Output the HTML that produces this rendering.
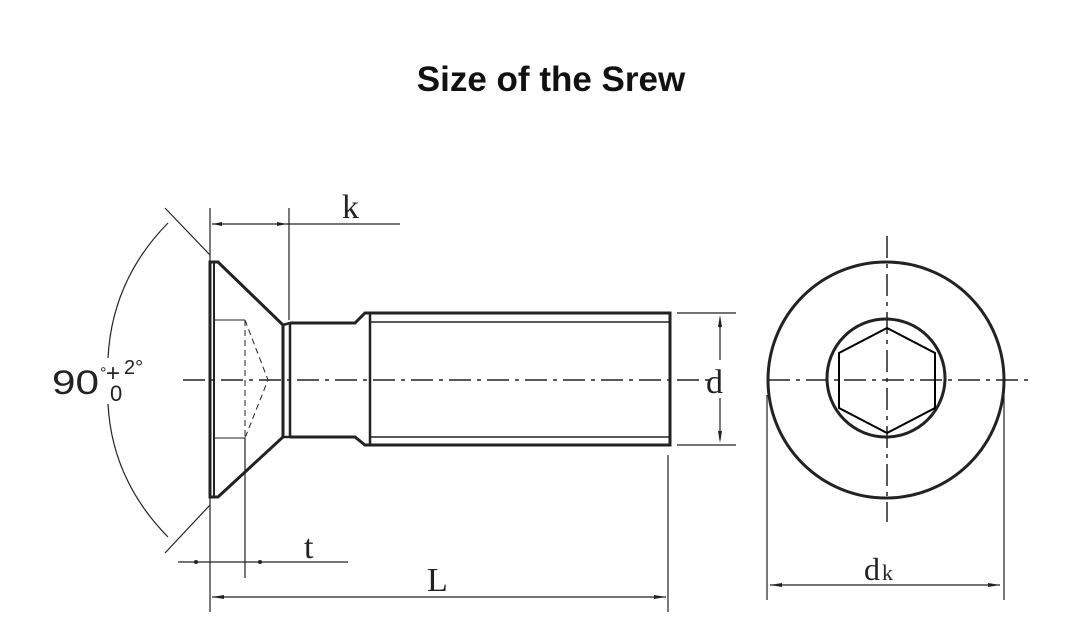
<!DOCTYPE html>
<html><head><meta charset="utf-8"><style>
body{margin:0;width:1080px;height:640px;background:#fff;overflow:hidden}
svg{position:absolute;left:0;top:0}
</style></head><body>
<svg width="1080" height="640" viewBox="0 0 1080 640" xmlns="http://www.w3.org/2000/svg">
<text x="551" y="91" text-anchor="middle" font-family="Liberation Sans, sans-serif" font-weight="bold" font-size="35" fill="#111">Size of the Srew</text>
<g stroke="#222" fill="none" stroke-width="1.5">
<line x1="183" y1="380" x2="710" y2="380" stroke-dasharray="22,6,4,6"/>
<line x1="768" y1="380" x2="1030" y2="380" stroke-dasharray="22,6,4,6"/>
<line x1="887" y1="236" x2="887" y2="522" stroke-dasharray="22,6,4,6"/>
<path d="M210 262 L218 262 L283 325 L283 437 L218 497 L210 497 Z" stroke-width="3"/>
<line x1="214" y1="262" x2="214" y2="497" stroke-width="2"/>
<line x1="283" y1="325" x2="290" y2="323" stroke-width="2.5"/>
<line x1="283" y1="437" x2="290" y2="437" stroke-width="2.5"/>
<line x1="290" y1="323" x2="290" y2="437" stroke-width="2.5"/>
<path d="M214 320 L245 320 M214 438 L245 438" stroke-width="1"/>
<path d="M245 320 L245 438 M245 320 L268 380 L245 438" stroke-dasharray="6,4" stroke-width="1"/>
<path d="M290 323 L355 323 L365 313 L670 313 L670 445 L365 445 L355 437 L290 437" stroke-width="3"/>
<line x1="370" y1="313" x2="370" y2="445" stroke-width="2.5"/>
<line x1="370" y1="322" x2="670" y2="322" stroke-width="1.5"/>
<line x1="370" y1="437" x2="670" y2="437" stroke-width="1.5"/>
<line x1="210" y1="208" x2="210" y2="612" stroke-width="1.2"/>
<line x1="289" y1="208" x2="289" y2="320" stroke-width="1.2"/>
<line x1="245" y1="438" x2="245" y2="578" stroke-width="1.2"/>
<line x1="668" y1="455" x2="668" y2="612" stroke-width="1.2"/>
<line x1="677" y1="313" x2="736" y2="313" stroke-width="1.2"/>
<line x1="677" y1="445" x2="736" y2="445" stroke-width="1.2"/>
<line x1="767" y1="395" x2="767" y2="600" stroke-width="1.2"/>
<line x1="1004" y1="395" x2="1004" y2="600" stroke-width="1.2"/>
<line x1="212" y1="224" x2="400" y2="224" stroke-width="1.2"/>
<line x1="178" y1="562" x2="348" y2="562" stroke-width="1.2"/>
<line x1="212" y1="597" x2="666" y2="597" stroke-width="1.2"/>
<line x1="720" y1="318" x2="720" y2="360" stroke-width="1.2"/>
<line x1="720" y1="398" x2="720" y2="440" stroke-width="1.2"/>
<line x1="770" y1="585" x2="1000" y2="585" stroke-width="1.2"/>
<line x1="165" y1="208" x2="210" y2="255" stroke-width="1.2"/>
<line x1="165" y1="553" x2="210" y2="505" stroke-width="1.2"/>
<path d="M168 223 Q112 280 108 358" stroke-width="1.2"/>
<path d="M108 404 Q112 480 168 537" stroke-width="1.2"/>
<circle cx="886" cy="380" r="118" stroke-width="3"/>
<circle cx="886" cy="378" r="59" stroke-width="3"/>
<polygon points="887,328 935,353 935,408 887,433 839,408 839,353" stroke="#000" stroke-width="2"/>
</g>
<g fill="#222">
<polygon points="212,224 222,222 222,226"/><polygon points="287,224 277,222 277,226"/>
<polygon points="212,597 224,595 224,599"/><polygon points="666,597 654,595 654,599"/>
<polygon points="720,315 718,327 722,327"/><polygon points="720,443 718,431 722,431"/>
<polygon points="770,585 782,583 782,587"/><polygon points="1000,585 988,583 988,587"/>
<circle cx="196" cy="562" r="2"/><circle cx="260" cy="562" r="2"/>
</g>
<g font-family="Liberation Serif, serif" fill="#222">
<text x="342" y="218" font-size="34">k</text>
<text x="304" y="558" font-size="34">t</text>
<text x="427" y="591" font-size="34">L</text>
<text x="706" y="393" font-size="34">d</text>
<text x="864" y="580" font-size="32">d</text><text x="882" y="580" font-size="22">k</text>
</g>
<g font-family="Liberation Sans, sans-serif" fill="#222">
<text x="52" y="394" font-size="34" textLength="47" lengthAdjust="spacingAndGlyphs">90</text>
<text x="100" y="378" font-size="16">°</text>
<text x="106" y="381" font-size="24">+</text>
<text x="124" y="374" font-size="20">2°</text>
<text x="110" y="401" font-size="22">0</text>
</g>
</svg>
</body></html>
